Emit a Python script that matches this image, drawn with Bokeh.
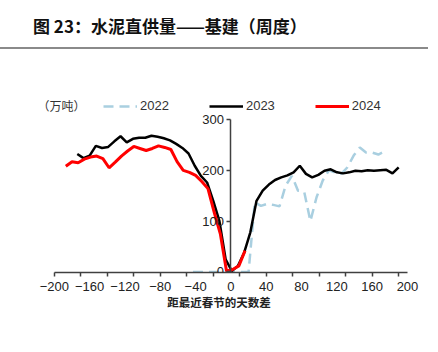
from bokeh.plotting import figure
from bokeh.models import Range1d, FixedTicker, Legend, LegendItem, Label, Div
from bokeh.layouts import column
from bokeh.embed import file_html
from bokeh.resources import INLINE

# ---- data (days relative to Spring Festival, weekly volume in 万吨) ----
x2022 = [-43, -36, -29, -22, -15, -8, -1, 6, 13, 20, 27, 34, 41, 48, 55, 62, 69, 76, 83, 90,
         97, 104, 111, 118, 125, 132, 139, 146, 153, 160, 167, 174]
v2022 = [0, 0, 0, 0, 0, 0, 0, 0, 0, 0, 137, 130, 134, 132, 129, 170, 189, 160, 158, 100,
         147, 180, 200, 196, 193, 206, 229, 245, 235, 235, 231, 237]

x2023 = [-174, -167, -160, -153, -146, -139, -132, -125, -118, -111, -104, -97, -90, -83, -76,
         -69, -62, -55, -48, -41, -34, -27, -20, -13, -6, 1, 8, 15, 22, 29, 36, 43, 50, 57, 64,
         71, 78, 85, 92, 99, 106, 113, 120, 127, 134, 141, 148, 155, 162, 169, 176, 183, 190]
v2023 = [232, 224, 229, 248, 244, 246, 257, 267, 255, 262, 264, 264, 268, 266, 263,
         259, 252, 244, 233, 209, 189, 176, 140, 100, 25, 2, 12, 38, 78, 140, 160, 172, 181, 186, 190,
         196, 209, 193, 186, 191, 199, 202, 196, 194, 196, 199, 198, 200, 199, 200, 201, 194, 206]

x2024 = [-187, -180, -173, -166, -159, -152, -145, -138, -131, -124, -117, -110, -103, -96, -89,
         -82, -75, -68, -61, -54, -47, -40, -33, -26, -19, -12, -5, 2, 9, 16]
v2024 = [208, 217, 215, 222, 226, 228, 223, 205, 216, 228, 238, 247, 243, 239, 243,
         248, 245, 241, 217, 200, 196, 190, 178, 164, 118, 75, 2, 5, 12, 42]

x_ticks = [-200, -160, -120, -80, -40, 0, 40, 80, 120, 160, 200]
x_minor = [-200, -170, -140, -110, -80, -50, -20, 10, 40, 70, 100, 130, 160, 190]
y_ticks = [0, 100, 200, 300]

title_text = "图 23：水泥直供量——基建（周度）"
unit_text = "（万吨）"
x_label = "距最近春节的天数差"

LAT = "Liberation Sans"
CJK = "Noto Sans CJK SC"
AXC = "#404040"

p = figure(width=438, height=302, output_backend="svg", toolbar_location=None,
           x_range=Range1d(-227, 200), y_range=Range1d(-1, 357),
           min_border_left=30, min_border_right=31, min_border_top=40, min_border_bottom=80)
p.outline_line_color = None
p.grid.visible = False
p.background_fill_color = "white"

r22 = p.line(x2022, v2022, line_color="#A9CFE0", line_width=2.5, line_dash="10 6")
r23 = p.line(x2023, v2023, line_color="black", line_width=2.5)
r24 = p.line(x2024, v2024, line_color="#FF0000", line_width=3)

# x axis
xa = p.xaxis[0]
xa.bounds = (-200, 200)
xa.ticker = FixedTicker(ticks=x_ticks, minor_ticks=x_minor)
xa.major_label_overrides = {t: (str(t).replace("-", "\u2212")) for t in x_ticks}
xa.major_tick_out = 0
xa.major_tick_in = 0
xa.minor_tick_out = 4
xa.minor_tick_in = 0
xa.minor_tick_line_color = AXC
xa.minor_tick_line_width = 1.5
xa.axis_line_color = AXC
xa.axis_line_width = 1.5
xa.major_label_text_font = LAT
xa.major_label_text_font_size = "13px"
xa.major_label_text_color = "#222222"
xa.major_label_standoff = 5
xa.axis_label = x_label
xa.axis_label_text_font = CJK
xa.axis_label_text_font_size = "11.5px"
xa.axis_label_text_font_style = "bold"
xa.axis_label_text_color = "#222222"
xa.axis_label_standoff = 0

# y axis positioned at x = 0
ya = p.yaxis[0]
ya.fixed_location = 0
ya.bounds = (-1, 300)
ya.ticker = FixedTicker(ticks=y_ticks)
ya.major_tick_out = 4
ya.major_tick_in = 0
ya.minor_tick_out = 0
ya.minor_tick_in = 0
ya.major_tick_line_color = AXC
ya.major_tick_line_width = 1.5
ya.axis_line_color = AXC
ya.axis_line_width = 1.5
ya.major_label_text_font = LAT
ya.major_label_text_font_size = "13px"
ya.major_label_text_color = "#222222"
ya.major_label_standoff = 3

legend = Legend(items=[LegendItem(label="2022", renderers=[r22]),
                       LegendItem(label="2023", renderers=[r23]),
                       LegendItem(label="2024", renderers=[r24])],
                orientation="horizontal", location=(73, 159),
                glyph_width=34, glyph_height=14, label_standoff=3, spacing=40,
                padding=0, margin=0, border_line_color=None, background_fill_alpha=0,
                label_text_font=LAT, label_text_font_size="13px", label_text_color="#333333")
p.add_layout(legend)

p.add_layout(Label(x=-219, y=328, text=unit_text, text_font=CJK, text_font_size="12px",
                   text_baseline="middle", text_color="#333333"))

div = Div(text=('<div style="position:relative;width:438px;height:50px;">'
                '<div style="position:absolute;left:33px;top:17px;line-height:18px;white-space:nowrap;'
                'font-family:\'Noto Sans CJK SC\';font-weight:bold;font-size:17px;color:#111;">'
                + title_text +
                '</div><div style="position:absolute;left:0;top:47px;width:428px;height:2px;'
                'background:#8a8a8a;"></div></div>'),
          width=438, height=50, margin=0)

layout = column(div, p, spacing=0)
open("out.html", "w").write(file_html(layout, INLINE))
